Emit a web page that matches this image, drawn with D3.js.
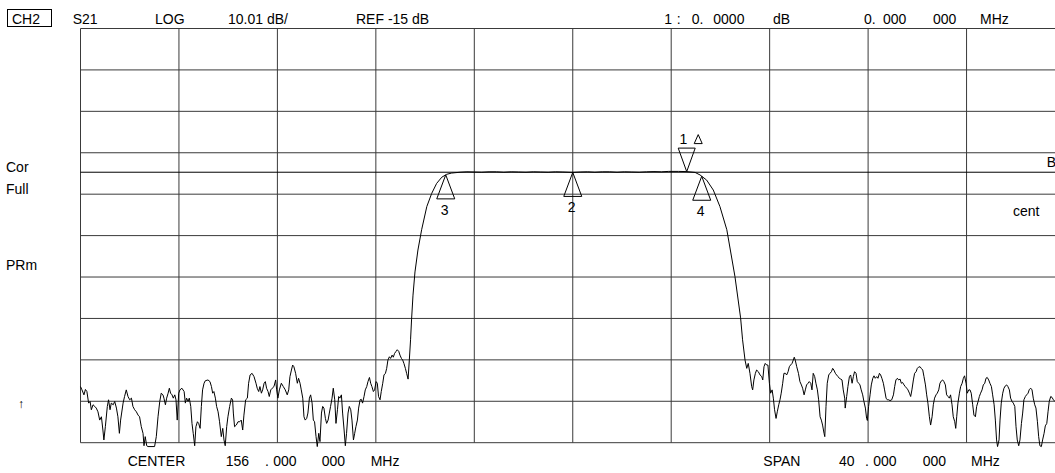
<!DOCTYPE html>
<html>
<head>
<meta charset="utf-8">
<script src="https://cdn.jsdelivr.net/npm/d3@7"></script>
<style>
  html, body { margin: 0; padding: 0; background: #fff; }
  svg { display: block; }
  text { font-family: "Liberation Sans", Arial, sans-serif; font-size: 14px; fill: #000; }
</style>
</head>
<body>
<svg id="chart" width="1055" height="473"></svg>
<script>
// ---- Sweep settings (channel 2, S21 log magnitude) ----
const centerMHz = 156;
const spanMHz = 40;
const refLevelDb = -15;
const dbPerDiv = 10.01;

// ---- Trace data: [frequency MHz, magnitude dB] ----
const stopbandLow = [
  [136.00,-66.8],[136.06,-67.6],[136.14,-68.8],[136.20,-67.5],[136.26,-68.0],[136.33,-70.8],[136.39,-70.4],[136.44,-72.4],
  [136.51,-71.2],[136.58,-71.6],[136.64,-72.0],[136.71,-72.9],[136.78,-74.9],[136.85,-74.1],[136.91,-77.3],[136.95,-79.7],
  [137.01,-76.5],[137.09,-71.6],[137.14,-70.0],[137.20,-72.4],[137.25,-70.8],[137.33,-71.2],[137.39,-70.4],[137.46,-72.0],
  [137.52,-74.1],[137.58,-78.1],[137.63,-74.9],[137.73,-70.8],[137.79,-69.2],[137.86,-67.6],[137.93,-69.2],[138.00,-70.0],
  [138.07,-69.6],[138.13,-71.6],[138.20,-72.4],[138.27,-72.9],[138.34,-73.7],[138.40,-74.1],[138.47,-76.5],[138.54,-78.1],
  [138.58,-81.1],[138.63,-78.9],[138.69,-81.1],[138.74,-81.3],[139.01,-81.3],[139.08,-78.9],[139.15,-74.1],[139.22,-70.4],
  [139.28,-68.4],[139.35,-68.8],[139.39,-69.6],[139.45,-71.2],[139.50,-69.6],[139.56,-68.4],[139.61,-67.2],[139.66,-68.4],
  [139.72,-68.8],[139.77,-69.6],[139.83,-68.8],[139.88,-70.0],[139.93,-74.9],[139.99,-68.4],[140.04,-67.6],[140.12,-67.2],
  [140.21,-68.0],[140.26,-70.8],[140.31,-69.6],[140.37,-70.4],[140.42,-69.6],[140.48,-71.6],[140.53,-75.7],[140.58,-78.1],
  [140.64,-81.1],[140.69,-76.5],[140.75,-75.3],[140.80,-75.7],[140.86,-76.9],[140.91,-71.6],[140.96,-67.6],[141.02,-66.0],
  [141.07,-65.4],[141.18,-65.2],[141.26,-65.6],[141.32,-66.8],[141.37,-68.4],[141.42,-68.0],[141.48,-69.6],[141.53,-71.6],
  [141.59,-72.9],[141.65,-75.3],[141.72,-78.9],[141.78,-76.9],[141.83,-79.7],[141.88,-81.1],[141.94,-76.5],[141.99,-74.1],
  [142.06,-71.6],[142.13,-69.6],[142.18,-70.0],[142.21,-73.2],[142.26,-76.5],[142.33,-76.1],[142.40,-75.3],[142.47,-75.3],
  [142.53,-74.9],[142.59,-77.3],[142.64,-73.7],[142.71,-70.0],[142.78,-69.6],[142.83,-66.0],[142.89,-64.0],[142.97,-63.6],
  [143.05,-64.4],[143.13,-66.0],[143.18,-67.2],[143.24,-68.0],[143.29,-66.8],[143.35,-68.4],[143.40,-67.6],[143.46,-66.0],
  [143.51,-65.6],[143.56,-67.2],[143.62,-68.0],[143.67,-69.2],[143.73,-67.6],[143.79,-67.2],[143.86,-66.8],[143.93,-65.2],
  [143.97,-67.6],[144.02,-69.6],[144.08,-67.6],[144.16,-66.0],[144.24,-66.8],[144.32,-67.6],[144.40,-68.8],[144.46,-67.6],
  [144.51,-64.4],[144.57,-62.8],[144.62,-61.6],[144.67,-62.0],[144.74,-63.6],[144.81,-66.0],[144.86,-64.8],[144.92,-66.0],
  [144.97,-67.6],[145.03,-69.6],[145.08,-74.1],[145.13,-74.9],[145.19,-74.5],[145.24,-73.2],[145.30,-69.6],[145.35,-68.8],
  [145.41,-70.8],[145.46,-74.9],[145.51,-75.3],[145.57,-78.9],[145.62,-81.3],[145.68,-78.1],[145.73,-80.1],[145.79,-73.2],
  [145.84,-71.6],[145.89,-72.0],[145.95,-74.5],[146.00,-75.7],[146.06,-74.9],[146.11,-73.2],[146.16,-71.6],[146.22,-69.6],
  [146.27,-67.2],[146.33,-70.0],[146.38,-75.7],[146.44,-72.4],[146.49,-69.2],[146.54,-69.6],[146.60,-68.8],[146.65,-73.2],
  [146.71,-77.3],[146.76,-81.1],[146.81,-78.1],[146.87,-73.2],[146.92,-71.6],[146.98,-72.4],[147.03,-74.9],[147.09,-79.7],
  [147.14,-78.1],[147.19,-76.5],[147.25,-74.9],[147.30,-72.0],[147.36,-70.0],[147.41,-69.9],[147.46,-70.8],[147.52,-69.2],
  [147.57,-67.6],[147.63,-66.8],[147.68,-65.6],[147.74,-64.6],[147.79,-66.0],[147.84,-66.8],[147.90,-68.0],[147.95,-67.6],
  [148.01,-65.6],[148.06,-66.0],[148.11,-69.2],[148.17,-70.0],[148.22,-68.0],[148.28,-66.0],[148.33,-64.0],[148.39,-63.6],
  [148.44,-62.4],[148.49,-60.4],[148.55,-59.6],[148.60,-60.0],[148.66,-59.2],[148.71,-59.7],[148.76,-58.8],[148.82,-58.3],
  [148.87,-57.9],[148.93,-58.3],[148.98,-59.2],[149.04,-60.0],[149.09,-60.4],[149.14,-61.2],[149.20,-62.4],[149.25,-63.6],
  [149.31,-65.0],[149.36,-60.4],[149.41,-55.5]
];

const skirtLow = [
  [149.45,-50.7],[149.51,-44.7],[149.59,-39.1],[149.71,-33.8],[149.86,-28.9],[150.07,-23.3],[150.27,-20.1],
  [150.47,-17.7],[150.68,-16.2],[150.88,-15.5],[151.08,-15.2]
];

const passband = [
  [151.42,-15.0],[151.70,-14.9],[152.00,-14.95],[152.30,-15.0],[152.60,-14.9],[152.90,-14.9],[153.20,-15.0],
  [153.50,-14.9],[153.80,-14.95],[154.10,-15.0],[154.40,-14.9],[154.70,-14.95],[155.00,-15.0],[155.30,-14.9],
  [155.60,-14.95],[156.00,-15.05],[156.30,-14.95],[156.60,-14.9],[156.90,-15.0],[157.20,-14.9],[157.50,-14.9],
  [157.80,-15.0],[158.10,-14.9],[158.40,-14.95],[158.70,-15.0],[159.00,-14.9],[159.30,-14.85],[159.60,-14.9],
  [159.90,-14.8],[160.30,-14.8],[160.63,-14.85],[160.97,-15.05]
];

const skirtHigh = [
  [161.17,-15.65],[161.44,-16.9],[161.71,-19.3],[161.98,-23.3],[162.26,-28.9],[162.59,-40.2],[162.82,-50.2]
];

const stopbandHigh = [
  [162.90,-55.5],[163.00,-60.4],[163.07,-62.4],[163.13,-61.2],[163.20,-63.6],[163.27,-66.8],[163.31,-67.6],[163.36,-65.2],
  [163.42,-63.6],[163.47,-62.8],[163.54,-63.2],[163.61,-64.0],[163.68,-64.4],[163.72,-65.2],[163.77,-62.0],[163.82,-61.2],
  [163.88,-61.6],[163.93,-61.6],[163.99,-66.0],[164.04,-68.4],[164.10,-67.6],[164.15,-69.6],[164.20,-72.4],[164.26,-74.5],
  [164.31,-72.9],[164.37,-71.2],[164.42,-70.0],[164.47,-68.4],[164.53,-66.0],[164.58,-63.6],[164.64,-63.6],[164.69,-64.0],
  [164.75,-63.2],[164.80,-62.0],[164.85,-61.6],[164.91,-61.2],[164.96,-60.4],[165.00,-59.7],[165.04,-60.4],[165.10,-62.0],
  [165.17,-63.6],[165.23,-65.6],[165.29,-66.4],[165.34,-67.2],[165.40,-68.8],[165.45,-67.6],[165.50,-66.4],[165.56,-66.0],
  [165.61,-65.6],[165.67,-66.0],[165.72,-67.6],[165.77,-63.6],[165.83,-64.4],[165.88,-66.0],[165.94,-67.6],[165.99,-70.0],
  [166.05,-74.1],[166.10,-74.9],[166.15,-76.1],[166.21,-78.1],[166.24,-78.9],[166.29,-71.6],[166.34,-66.0],[166.40,-64.0],
  [166.45,-63.6],[166.51,-63.2],[166.56,-62.4],[166.61,-62.8],[166.67,-63.6],[166.72,-64.0],[166.78,-64.4],[166.83,-64.8],
  [166.89,-65.0],[166.94,-65.2],[166.99,-67.6],[167.05,-69.6],[167.07,-72.0],[167.13,-69.2],[167.18,-66.8],[167.24,-64.4],
  [167.29,-64.0],[167.35,-66.0],[167.40,-64.4],[167.45,-63.2],[167.51,-63.6],[167.56,-65.6],[167.62,-66.0],[167.67,-66.4],
  [167.72,-67.6],[167.78,-68.8],[167.83,-70.4],[167.89,-72.0],[167.94,-74.5],[167.97,-75.0],[168.02,-71.6],[168.08,-68.8],
  [168.13,-66.4],[168.19,-64.8],[168.24,-64.2],[168.29,-64.8],[168.35,-64.4],[168.40,-64.8],[168.46,-63.6],[168.51,-64.0],
  [168.56,-64.8],[168.62,-66.0],[168.67,-67.6],[168.73,-69.6],[168.78,-70.0],[168.84,-70.0],[168.89,-70.2],[168.96,-70.0],
  [169.03,-68.8],[169.08,-66.8],[169.13,-65.2],[169.19,-64.8],[169.24,-65.2],[169.30,-65.0],[169.35,-66.0],[169.40,-65.8],
  [169.46,-66.4],[169.51,-66.8],[169.57,-67.2],[169.62,-67.6],[169.68,-68.4],[169.73,-69.2],[169.78,-67.6],[169.84,-65.2],
  [169.89,-63.6],[169.95,-63.2],[170.00,-62.4],[170.05,-62.1],[170.11,-62.0],[170.16,-62.4],[170.22,-62.8],[170.27,-64.4],
  [170.33,-66.4],[170.38,-68.8],[170.43,-70.8],[170.49,-74.1],[170.54,-76.1],[170.60,-74.1],[170.65,-71.2],[170.70,-69.6],
  [170.76,-68.8],[170.81,-68.4],[170.87,-67.6],[170.92,-66.0],[170.98,-65.4],[171.03,-65.2],[171.08,-65.6],[171.14,-66.4],
  [171.19,-68.8],[171.25,-69.2],[171.30,-69.6],[171.35,-68.8],[171.41,-71.2],[171.46,-74.1],[171.52,-75.3],[171.56,-76.9],
  [171.60,-74.1],[171.65,-70.8],[171.71,-68.4],[171.76,-66.8],[171.82,-66.0],[171.87,-64.8],[171.92,-64.2],[171.98,-66.0],
  [172.03,-68.4],[172.09,-67.6],[172.14,-67.6],[172.19,-68.4],[172.25,-71.2],[172.30,-73.7],[172.36,-74.1],[172.41,-71.6],
  [172.47,-70.4],[172.52,-69.2],[172.57,-68.4],[172.63,-67.6],[172.68,-66.4],[172.74,-66.0],[172.79,-64.8],[172.84,-64.6],
  [172.90,-65.2],[172.95,-66.0],[173.01,-66.8],[173.06,-68.8],[173.12,-71.2],[173.17,-74.9],[173.22,-79.7],[173.26,-81.3],
  [173.32,-79.7],[173.36,-74.9],[173.41,-70.8],[173.47,-68.4],[173.52,-67.2],[173.58,-66.6],[173.63,-66.4],[173.68,-66.8],
  [173.74,-67.6],[173.79,-69.6],[173.85,-70.4],[173.90,-70.8],[173.96,-71.6],[174.01,-76.5],[174.06,-79.7],[174.12,-81.1],
  [174.17,-79.7],[174.23,-75.7],[174.28,-73.2],[174.33,-70.0],[174.39,-69.2],[174.44,-68.8],[174.50,-68.4],[174.55,-67.5],
  [174.61,-67.2],[174.66,-67.6],[174.71,-69.6],[174.77,-71.2],[174.82,-72.0],[174.88,-75.3],[174.93,-78.9],[174.98,-81.1],
  [175.04,-81.3],[175.09,-79.7],[175.15,-78.1],[175.20,-76.3],[175.26,-75.7],[175.31,-72.9],[175.36,-70.4],[175.42,-69.2],
  [175.47,-69.4],[175.53,-70.0],[175.59,-70.4]
];

// ---- Markers ----
const markerIds = ["1", "2", "3", "4"];
const markerFreqMHz = [160.63, 156.00, 150.84, 161.24];

// ---- Annotation text ----
const headerTexts = ["S21", "LOG", "10.01 dB/", "REF -15 dB", "1", ":", "0.", "0000", "dB", "0.", "000", "000", "MHz"];
const channelLabel = "CH2";
const centerTexts = ["CENTER", "156", ".", "000", "000", "MHz"];
const spanTexts = ["SPAN", "40", ".", "000", "000", "MHz"];
const leftTexts = ["Cor", "Full", "PRm"];
const rightTexts = ["B", "cent"];

// ---- Layout ----
const W = 1055, H = 473;
const plot = { left: 80.5, top: 28.5, width: 984.5, height: 414.2 };
const refDivFromTop = 3.47;
const topDb = refLevelDb + refDivFromTop * dbPerDiv;
const bottomDb = topDb - 10 * dbPerDiv;
const startMHz = centerMHz - spanMHz / 2;
const stopMHz = centerMHz + spanMHz / 2;

const svg = d3.select("#chart");
svg.append("rect").attr("width", W).attr("height", H).attr("fill", "#fff");

const x = d3.scaleLinear().domain([startMHz, stopMHz]).range([plot.left, plot.left + plot.width]);
const y = d3.scaleLinear().domain([bottomDb, topDb]).range([plot.top + plot.height, plot.top]);

// Graticule: 10 x 10 divisions
const xDivs = d3.range(11).map(i => startMHz + i * spanMHz / 10);
const yDivs = d3.range(11).map(i => topDb - i * dbPerDiv);

const grid = svg.append("g").attr("stroke", "#3a3a3a").attr("stroke-width", 1);
grid.selectAll("line.v").data(xDivs).join("line")
  .attr("class", "v")
  .attr("x1", d => x(d)).attr("x2", d => x(d))
  .attr("y1", y(topDb)).attr("y2", y(bottomDb));
grid.selectAll("line.h").data(yDivs).join("line")
  .attr("class", "h")
  .attr("x1", x(startMHz)).attr("x2", x(stopMHz))
  .attr("y1", d => y(d)).attr("y2", d => y(d));

// Reference level line
svg.append("line")
  .attr("x1", x(startMHz)).attr("x2", x(stopMHz))
  .attr("y1", y(refLevelDb)).attr("y2", y(refLevelDb))
  .attr("stroke", "#000").attr("stroke-width", 1);

// Measured trace
const trace = [].concat(stopbandLow, skirtLow, passband, skirtHigh, stopbandHigh);
const line = d3.line().x(d => x(d[0])).y(d => y(d[1]));
svg.append("path")
  .datum(trace)
  .attr("d", line)
  .attr("fill", "none")
  .attr("stroke", "#000")
  .attr("stroke-width", 1)
  .attr("stroke-linejoin", "round");

// Marker value at the marker frequency
const bisect = d3.bisector(d => d[0]).left;
function traceAt(f) {
  const i = Math.max(1, Math.min(trace.length - 1, bisect(trace, f)));
  const a = trace[i - 1], b = trace[i];
  const t = (f - a[0]) / (b[0] - a[0]);
  return a[1] + t * (b[1] - a[1]);
}

const mk = svg.append("g").attr("fill", "none").attr("stroke", "#000").attr("stroke-width", 1);
markerIds.forEach((id, i) => {
  const mx = x(markerFreqMHz[i]);
  const my = y(traceAt(markerFreqMHz[i]));
  if (i === 0) {
    // active (delta reference) marker: downward triangle above the trace
    mk.append("path").attr("d", `M${mx},${my} L${mx - 8.5},${my - 23.5} L${mx + 8.5},${my - 23.5} Z`);
    svg.append("text").attr("x", mx - 3.4).attr("y", my - 27.5).attr("text-anchor", "middle").text(id);
    const dx = mx + 11.5, dy = my - 28;
    mk.append("path").attr("d", `M${dx},${dy - 9} L${dx - 4},${dy} L${dx + 4},${dy} Z`);
  } else {
    mk.append("path").attr("d", `M${mx},${my} L${mx - 9},${my + 24} L${mx + 9},${my + 24} Z`);
    svg.append("text").attr("x", mx - 1).attr("y", my + 40).attr("text-anchor", "middle").text(id);
  }
});

// Header line
svg.append("rect").attr("x", 7.5).attr("y", 9.5).attr("width", 44).attr("height", 17)
  .attr("fill", "none").attr("stroke", "#000").attr("stroke-width", 1);
svg.append("text").attr("x", 12).attr("y", 24).text(channelLabel);
const headerX = [72.7, 155, 228, 356, 664.3, 676.7, 691.7, 713.3, 773, 864, 883, 933, 980];
headerTexts.forEach((t, i) => svg.append("text").attr("x", headerX[i]).attr("y", 24).text(t));

// Footer: center and span
const centerX = [127.7, 225.7, 265, 273.3, 321.7, 370.7];
centerTexts.forEach((t, i) => svg.append("text").attr("x", centerX[i]).attr("y", 466).text(t));
const spanX = [763.3, 839, 865, 873.3, 922.7, 971];
spanTexts.forEach((t, i) => svg.append("text").attr("x", spanX[i]).attr("y", 466).text(t));

// Side annotations
const leftY = [171.7, 194, 270];
leftTexts.forEach((t, i) => svg.append("text").attr("x", 6).attr("y", leftY[i]).text(t));
svg.append("text").attr("x", 21).attr("y", 408).attr("text-anchor", "middle")
  .style("font-size", "12px").text("\u2191");
const rightX = [1046.7, 1013], rightY = [166.7, 216];
rightTexts.forEach((t, i) => svg.append("text").attr("x", rightX[i]).attr("y", rightY[i]).text(t));
</script>
</body>
</html>
